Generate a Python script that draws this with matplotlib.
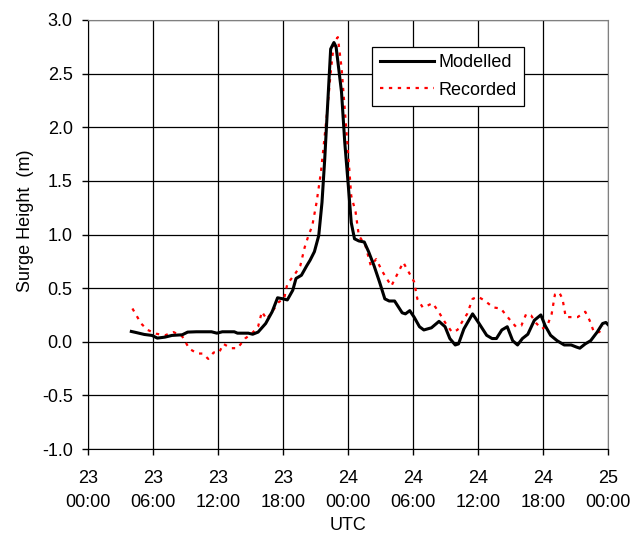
import matplotlib
matplotlib.use("Agg")
import matplotlib.pyplot as plt

plt.rcParams['font.family'] = ['Liberation Sans', 'DejaVu Sans']

# Hours since 23 00:00 UTC
mod_hours = [4.0, 4.4, 5.2, 5.9, 6.4, 7.1, 7.75, 8.7, 9.2, 10.0, 11.4, 11.9, 12.4, 13.5, 13.8,
             14.8, 15.2, 15.7, 16.4, 17.0, 17.5, 18.0, 18.4, 18.9, 19.2, 19.7, 20.2, 20.5, 20.9,
             21.3, 21.6, 21.85, 22.1, 22.4, 22.7, 22.9, 23.4, 23.7, 24.0, 24.3, 24.6, 25.0, 25.5,
             25.9, 26.4, 26.9, 27.4, 27.8, 28.3, 29.0, 29.3, 29.7, 30.1, 30.6, 31.0, 31.7, 32.4,
             32.96, 33.4, 33.9, 34.2, 34.7, 35.5, 36.1, 36.8, 37.3, 37.7, 38.2, 38.7, 39.2, 39.65,
             40.1, 40.6, 41.2, 41.8, 42.2, 42.7, 43.3, 43.96, 44.6, 45.1, 45.4, 45.9, 46.4, 47.0,
             47.5, 47.8, 48.0]
mod_values = [0.096, 0.087, 0.068, 0.059, 0.034, 0.043, 0.059, 0.065, 0.09, 0.093, 0.093, 0.08,
              0.093, 0.093, 0.08, 0.08, 0.07, 0.09, 0.17, 0.28, 0.41, 0.40, 0.39, 0.48, 0.59, 0.62,
              0.71, 0.76, 0.84, 0.99, 1.30, 1.70, 2.17, 2.73, 2.79, 2.75, 2.33, 1.86, 1.49, 1.11,
              0.96, 0.94, 0.93, 0.84, 0.71, 0.56, 0.40, 0.38, 0.38, 0.27, 0.26, 0.29, 0.23, 0.14,
              0.11, 0.13, 0.19, 0.14, 0.03, -0.03, -0.02, 0.12, 0.26, 0.17, 0.06, 0.03, 0.03, 0.11,
              0.14, 0.01, -0.03, 0.03, 0.07, 0.20, 0.25, 0.15, 0.06, 0.01, -0.03, -0.03, -0.05,
              -0.06, -0.02, 0.01, 0.09, 0.17, 0.18, 0.16]

rec_hours = [4.1, 4.9, 5.5, 6.3, 7.1, 7.9, 8.7, 9.35, 10.1, 10.6, 11.1, 11.6, 12.1, 12.5, 13.2,
             13.8, 14.5, 15.1, 15.7, 16.05, 16.5, 17.0, 17.6, 18.1, 18.4, 19.1, 19.6, 20.0, 20.35,
             20.7, 21.1, 21.5, 21.85, 22.1, 22.4, 22.7, 23.06, 23.4, 23.7, 24.0, 24.3, 24.7, 25.0,
             25.6, 26.1, 26.6, 27.2, 28.0, 28.5, 29.1, 29.6, 30.1, 30.4, 30.9, 31.4, 31.8, 32.3,
             32.96, 33.6, 34.1, 34.5, 35.0, 35.5, 36.0, 36.6, 37.4, 38.1, 38.9, 39.5, 40.0, 40.45,
             40.9, 41.4, 41.9, 42.4, 42.8, 43.1, 43.5, 43.8, 44.1, 44.6, 45.2, 45.9, 46.3, 46.7,
             47.2, 47.5]
rec_values = [0.31, 0.17, 0.11, 0.075, 0.06, 0.09, 0.05, -0.065, -0.11, -0.11, -0.16, -0.10,
              -0.10, -0.02, -0.06, -0.06, 0.03, 0.075, 0.14, 0.28, 0.21, 0.28, 0.37, 0.40, 0.54,
              0.63, 0.71, 0.88, 0.99, 1.08, 1.30, 1.58, 1.92, 2.17, 2.51, 2.79, 2.84, 2.56, 2.17,
              1.77, 1.36, 1.21, 0.99, 0.90, 0.71, 0.77, 0.65, 0.52, 0.62, 0.74, 0.65, 0.56, 0.40,
              0.32, 0.34, 0.36, 0.29, 0.18, 0.09, 0.11, 0.18, 0.26, 0.40, 0.42, 0.385, 0.32, 0.31,
              0.21, 0.14, 0.15, 0.26, 0.245, 0.17, 0.12, 0.15, 0.26, 0.44, 0.46, 0.40, 0.23, 0.23,
              0.23, 0.28, 0.20, 0.09, 0.09, 0.15]

xtick_hours = [0, 6, 12, 18, 24, 30, 36, 42, 48]
xtick_labels = ['23\n00:00', '23\n06:00', '23\n12:00', '23\n18:00', '24\n00:00',
                '24\n06:00', '24\n12:00', '24\n18:00', '25\n00:00']
ytick_values = [-1.0, -0.5, 0.0, 0.5, 1.0, 1.5, 2.0, 2.5, 3.0]

FS = 13

fig = plt.figure(figsize=(6.41, 5.33), dpi=100)
ax = fig.add_axes([88/641, 1-449/533, 520/641, 429/533])

ax.plot(mod_hours, mod_values, color='black', lw=2.2, label='Modelled', zorder=4)
ax.plot(rec_hours, rec_values, color='red', lw=1.6, linestyle=(0, (1.5, 2.5)),
        label='Recorded', zorder=3)

ax.set_xlim(0, 48)
ax.set_ylim(-1.0, 3.0)
ax.set_xticks(xtick_hours)
ax.set_xticklabels(xtick_labels, fontsize=FS, linespacing=1.6)
ax.set_yticks(ytick_values)
ax.set_yticklabels([f'{v:.1f}' for v in ytick_values], fontsize=FS)
ax.tick_params(axis='both', direction='out', length=4, width=1, color='black')
ax.tick_params(axis='y', pad=7)
ax.tick_params(axis='x', pad=10.8)
ax.grid(True, color='black', lw=0.9)
ax.set_axisbelow(True)
for s in ['top', 'right']:
    ax.spines[s].set_color('#808080')
for s in ['left', 'bottom']:
    ax.spines[s].set_color('black')

ax.set_xlabel('UTC', fontsize=FS)
ax.xaxis.set_label_coords(0.5, (449 - 517) / 429)
ax.set_ylabel('Surge Height  (m)', fontsize=FS)
ax.yaxis.set_label_coords((34 - 88) / 520, (449 - 221) / 429)

leg = ax.legend(loc='upper right', bbox_to_anchor=(0.838, 0.938), borderaxespad=0,
                fontsize=FS, frameon=True, fancybox=False, framealpha=1, edgecolor='black',
                handlelength=3.0, borderpad=0.4, labelspacing=0.6, handletextpad=0.25)
leg.get_frame().set_linewidth(0.9)

fig.savefig('out.png', dpi=100)
